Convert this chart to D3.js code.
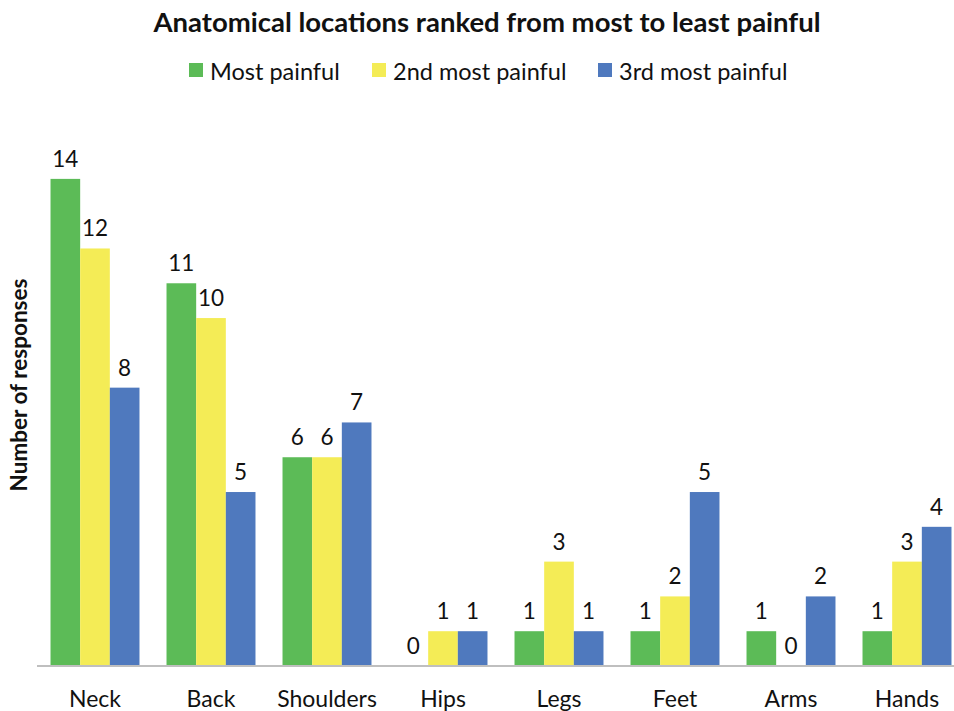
<!DOCTYPE html>
<html><head><meta charset="utf-8">
<script src="https://cdn.jsdelivr.net/npm/d3@7"></script>
<style>body{margin:0;background:#fff}svg{display:block}</style>
</head><body>
<svg id="c" width="954" height="711"></svg>
<script>
const categories = ["Neck","Back","Shoulders","Hips","Legs","Feet","Arms","Hands"];
const seriesNames = ["Most painful","2nd most painful","3rd most painful"];
const mostPainful = [14,11,6,0,1,1,1,1];
const secondPainful = [12,10,6,1,3,2,0,3];
const thirdPainful = [8,5,7,1,1,5,2,4];
const colors = ["#5cbb57","#f4ec56","#4f79be"];
const series = [mostPainful, secondPainful, thirdPainful];

const svg = d3.select("#c");
const font = "Lato, 'Open Sans', sans-serif";
const baseY = 666;

const x0 = d3.scaleBand().domain(categories).range([37, 965]).paddingInner(0.233).paddingOuter(0.1165);
const x1 = d3.scaleBand().domain(d3.range(series.length)).range([0, x0.bandwidth()]);
const y = d3.scaleLinear().domain([0,16]).range([baseY, 109.3]);

// title
svg.append("text").attr("x",487).attr("y",32).attr("text-anchor","middle")
  .attr("font-family",font).attr("font-weight","bold").attr("font-size",27.5).attr("fill","#111")
  .text("Anatomical locations ranked from most to least painful");

// legend
const legendX = [189, 372, 598];
seriesNames.forEach((n,i)=>{
  const g = svg.append("g").attr("transform",`translate(${legendX[i]},63)`);
  g.append("rect").attr("width",14).attr("height",14).attr("fill",colors[i]);
  g.append("text").attr("x",21).attr("y",17).attr("font-family",font).attr("font-size",23.5).attr("fill","#111").text(n);
});

// y label
svg.append("text").attr("transform","translate(27,385) rotate(-90)").attr("text-anchor","middle")
  .attr("font-family",font).attr("font-weight","bold").attr("font-size",22.5).attr("fill","#111")
  .text("Number of responses");

// bars
const groups = svg.append("g").selectAll("g").data(categories).join("g")
  .attr("transform", d=>`translate(${x0(d)},0)`);
groups.each(function(cat, ci){
  const g = d3.select(this);
  series.forEach((s, si)=>{
    const v = s[ci];
    g.append("rect").attr("x", x1(si)).attr("y", y(v)).attr("width", x1.bandwidth()).attr("height", y(0)-y(v)).attr("fill", colors[si]);
    g.append("text").attr("x", x1(si)+x1.bandwidth()/2).attr("y", y(v)-12).attr("text-anchor","middle")
      .attr("font-family",font).attr("font-size",22.5).attr("fill","#111").text(v);
  });
});

// x axis
const xAxis = d3.axisBottom(x0).tickSize(0).tickPadding(25);
const ax = svg.append("g").attr("transform",`translate(0,${baseY})`).call(xAxis);
ax.select(".domain").attr("stroke","#bfbfbf").attr("stroke-width",2).attr("d","M37,0H954");
ax.selectAll("text").attr("font-family",font).attr("font-size",23).attr("fill","#111").attr("dy","0.71em");
</script>
</body></html>
